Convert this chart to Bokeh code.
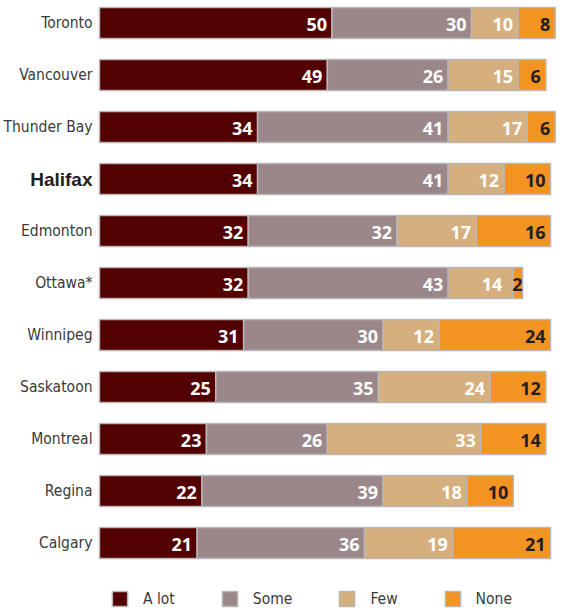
import numpy as np
from bokeh.plotting import figure
from bokeh.models import ColumnDataSource, Range1d, Legend, LegendItem
from bokeh.core.properties import value
from bokeh.embed import file_html
from bokeh.resources import INLINE

# ---- data ----
cities = ["Toronto", "Vancouver", "Thunder Bay", "Halifax", "Edmonton", "Ottawa*",
          "Winnipeg", "Saskatoon", "Montreal", "Regina", "Calgary"]
a_lot = [50, 49, 34, 34, 32, 32, 31, 25, 23, 22, 21]
some = [30, 26, 41, 41, 32, 43, 30, 35, 26, 39, 36]
few = [10, 15, 17, 12, 17, 14, 12, 24, 33, 18, 19]
none = [8, 6, 6, 10, 16, 2, 24, 12, 14, 10, 21]
categories = ["A lot", "Some", "Few", "None"]
highlight = "Halifax"

# ---- style ----
colors = ["#520000", "#9b878a", "#d5af7d", "#f39321"]
label_colors = ["#ffffff", "#ffffff", "#ffffff", "#231f20"]
border = "#b8b8b8"
num_font = "Open Sans"
city_font = "DejaVu Sans Condensed"

W, H = 566, 608
px_per_unit = 4.65
left_px = 99
row_px = 52
top_px = 22.5
x_start = -left_px / px_per_unit
x_end = (W - left_px) / px_per_unit
y_top = -top_px / row_px
y_bot = (H - top_px) / row_px

p = figure(width=W, height=H, x_range=Range1d(x_start, x_end), y_range=Range1d(y_bot, y_top),
           output_backend="svg", toolbar_location=None, min_border=0,
           x_axis_location=None, y_axis_location=None)
p.grid.visible = False
p.outline_line_color = None

ys = np.arange(len(cities))
series = [np.array(s, dtype=float) for s in (a_lot, some, few, none)]
left = np.zeros(len(cities))
renderers = []
for k, vals in enumerate(series):
    right = left + vals
    nxt = series[k + 1] if k + 1 < len(series) else np.full(len(cities), 99.0)
    # tiny segments: label flush with segment end; the preceding label moves left
    offs = np.where(vals < 4, 0, np.where(nxt < 4, -11, -5))
    src = ColumnDataSource(dict(y=ys, left=left.copy(), right=right, off=offs,
                                lab=[str(int(v)) for v in vals]))
    r = p.hbar(y="y", left="left", right="right", height=0.6, fill_color=colors[k],
               line_color=border, line_width=1.5, source=src)
    renderers.append(r)
    p.text(x="right", y="y", text="lab", x_offset="off", y_offset=1, text_align="right",
           text_baseline="middle", text_font=value(num_font), text_font_style="bold",
           text_font_size="18px", text_color=label_colors[k], source=src)
    left = right

csrc = ColumnDataSource(dict(
    x=np.zeros(len(cities)), y=ys, text=cities,
    style=["bold" if c == highlight else "normal" for c in cities],
    font=["Liberation Sans" if c == highlight else city_font for c in cities],
    size=["19px" if c == highlight else "15.5px" for c in cities],
    color=["#231f20" if c == highlight else "#3a3a3a" for c in cities],
))
p.text(x="x", y="y", text="text", x_offset=-7, text_align="right", text_baseline="middle",
       text_font="font", text_font_style="style", text_font_size="size",
       text_color="color", source=csrc)

legend = Legend(items=[LegendItem(label=c, renderers=[r]) for c, r in zip(categories, renderers)],
                orientation="horizontal", location=(110, 0), glyph_width=19, glyph_height=19,
                label_standoff=14, spacing=45, padding=0, margin=0,
                border_line_color=None, background_fill_alpha=0,
                label_text_font=city_font, label_text_font_size="15.5px",
                label_text_color="#3a3a3a")
p.add_layout(legend)

open("out.html", "w").write(file_html(p, INLINE))
